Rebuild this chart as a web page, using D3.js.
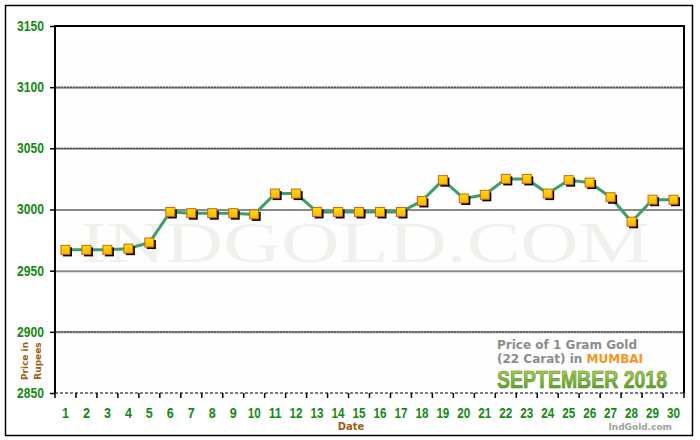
<!DOCTYPE html>
<html lang="en">
<head>
<meta charset="UTF-8">
<title>Gold price Mumbai - September 2018</title>
<script src="https://d3js.org/d3.v7.min.js"></script>
<style>
    body { margin: 0; padding: 0; background: #fff; }
    svg { display: block; }
</style>
</head>
<body>
<svg id="chart" width="700" height="440"></svg>
<script>
    // Data
    const dates = d3.range(1, 31);
    const prices = [2967, 2967, 2967, 2968, 2973, 2998, 2997, 2997, 2997, 2996,
                    3013, 3013, 2998, 2998, 2998, 2998, 2998, 3007, 3024, 3009,
                    3012, 3025, 3025, 3013, 3024, 3022, 3010, 2990, 3008, 3008];
    const yTicks = [2850, 2900, 2950, 3000, 3050, 3100, 3150];

    const margin = {top: 26, right: 16, bottom: 47, left: 55};
    const width = 700, height = 440;

    const svg = d3.select('#chart');

    // outer frame
    svg.append('rect')
        .attr('x', 5.5).attr('y', 5.5)
        .attr('width', 687).attr('height', 430)
        .attr('fill', '#fff').attr('stroke', '#000').attr('stroke-width', 1.5);

    const x = d3.scaleBand()
        .domain(dates)
        .range([margin.left, width - margin.right]);

    const y = d3.scaleLinear()
        .domain([2850, 3150])
        .range([height - margin.bottom, margin.top]);

    // plot background
    svg.append('rect')
        .attr('x', margin.left).attr('y', margin.top)
        .attr('width', width - margin.left - margin.right)
        .attr('height', height - margin.top - margin.bottom)
        .attr('fill', '#fefefe');

    // watermark
    svg.append('text')
        .attr('x', 80).attr('y', 262)
        .attr('textLength', 570)
        .attr('lengthAdjust', 'spacingAndGlyphs')
        .style('font-family', '"Liberation Serif", "DejaVu Serif", serif')
        .style('font-size', '56px')
        .style('fill', '#eff2ec')
        .text('INDGOLD.COM');

    // gridlines
    const grid = yTicks.filter(d => d > 2850 && d < 3150);
    svg.selectAll('.grid')
        .data(grid)
        .enter()
        .append('line')
        .attr('class', 'grid')
        .attr('x1', margin.left).attr('x2', width - margin.right)
        .attr('y1', d => y(d) + 0.5).attr('y2', d => y(d) + 0.5)
        .attr('stroke', '#8a8a8a').attr('stroke-width', 2);

    svg.selectAll('.gridDash')
        .data(grid.filter(d => d !== 3000 && d !== 2950))
        .enter()
        .append('line')
        .attr('class', 'gridDash')
        .attr('x1', margin.left).attr('x2', width - margin.right)
        .attr('y1', d => y(d)).attr('y2', d => y(d))
        .attr('stroke', '#333').attr('stroke-width', 1)
        .attr('stroke-dasharray', '2,1');

    // frame of plot: left, top, right solid; bottom dashed
    const x0 = margin.left, x1 = width - margin.right;
    const yTop = margin.top, yBot = height - margin.bottom;
    svg.append('path')
        .attr('d', `M${x0},${yBot}V${yTop}H${x1}V${yBot}`)
        .attr('fill', 'none').attr('stroke', '#000').attr('stroke-width', 2);
    svg.append('line')
        .attr('x1', x0).attr('x2', x1)
        .attr('y1', yBot).attr('y2', yBot)
        .attr('stroke', '#000').attr('stroke-width', 1)
        .attr('stroke-dasharray', '3,2');

    // y axis
    const yAxis = svg.append('g')
        .attr('transform', `translate(${margin.left},0)`)
        .call(d3.axisLeft(y).tickValues(yTicks).tickSize(5).tickPadding(6).tickFormat(d3.format('d')));
    yAxis.select('.domain').remove();
    yAxis.selectAll('line').attr('stroke', '#000').attr('stroke-width', 1.5);
    yAxis.selectAll('text')
        .attr('textLength', 27)
        .attr('lengthAdjust', 'spacingAndGlyphs')
        .style('font-family', '"Liberation Sans", Arial, sans-serif')
        .style('font-size', '14px')
        .style('font-weight', 'bold')
        .style('fill', '#138a13');

    // x axis: ticks at band edges
    const edges = dates.map(d => x(d)).concat([x1]);
    svg.selectAll('.xtick')
        .data(edges)
        .enter()
        .append('line')
        .attr('x1', d => d).attr('x2', d => d)
        .attr('y1', yBot).attr('y2', yBot + 5)
        .attr('stroke', '#000').attr('stroke-width', 1.5);

    svg.selectAll('.xlabel')
        .data(dates)
        .enter()
        .append('text')
        .attr('x', d => x(d) + x.bandwidth() / 2)
        .attr('y', 418)
        .attr('text-anchor', 'middle')
        .attr('textLength', d => d < 10 ? 7 : 13)
        .attr('lengthAdjust', 'spacingAndGlyphs')
        .style('font-family', '"Liberation Sans", Arial, sans-serif')
        .style('font-size', '14px')
        .style('font-weight', 'bold')
        .style('fill', '#138a13')
        .text(d => d);

    // axis titles
    svg.append('text')
        .attr('x', 351).attr('y', 430)
        .attr('text-anchor', 'middle')
        .style('font-family', 'Verdana, "DejaVu Sans", sans-serif')
        .style('font-size', '10px')
        .style('font-weight', 'bold')
        .style('fill', '#9b5d14')
        .text('Date');

    const yTitle = svg.append('g')
        .attr('transform', 'translate(28,361) rotate(-90)')
        .style('font-family', 'Verdana, "DejaVu Sans", sans-serif')
        .style('font-size', '9px')
        .style('font-weight', 'bold')
        .style('fill', '#9b5d14');
    yTitle.append('text').attr('text-anchor', 'middle').attr('y', 0).text('Price in');
    yTitle.append('text').attr('text-anchor', 'middle').attr('y', 13).text('Rupees');

    // line
    const line = d3.line()
        .x((d, i) => x(dates[i]) + x.bandwidth() / 2)
        .y(d => y(d));

    svg.append('path')
        .datum(prices)
        .attr('d', line)
        .attr('fill', 'none')
        .attr('stroke', '#3d9e68')
        .attr('stroke-width', 3)
        .attr('stroke-linejoin', 'round');

    // markers with shadow
    const defs = svg.append('defs');
    const mg = defs.append('linearGradient').attr('id', 'mk')
        .attr('x1', 0).attr('y1', 0).attr('x2', 0).attr('y2', 1);
    mg.append('stop').attr('offset', '0%').attr('stop-color', '#ffe000');
    mg.append('stop').attr('offset', '100%').attr('stop-color', '#ffb300');

    const s = 9;
    svg.selectAll('.shadow')
        .data(prices)
        .enter()
        .append('rect')
        .attr('x', (d, i) => x(dates[i]) + x.bandwidth() / 2 - s / 2 + 2)
        .attr('y', d => y(d) - s / 2 + 2)
        .attr('width', s).attr('height', s)
        .attr('fill', '#000');

    svg.selectAll('.marker')
        .data(prices)
        .enter()
        .append('rect')
        .attr('x', (d, i) => x(dates[i]) + x.bandwidth() / 2 - s / 2)
        .attr('y', d => y(d) - s / 2)
        .attr('width', s).attr('height', s)
        .attr('fill', 'url(#mk)')
        .attr('stroke', '#c8641e').attr('stroke-width', 1);

    // caption box
    const cap = svg.append('g')
        .style('font-family', 'Verdana, "DejaVu Sans", sans-serif')
        .style('font-weight', 'bold');
    cap.append('text')
        .attr('x', 497).attr('y', 349)
        .attr('textLength', 140).attr('lengthAdjust', 'spacingAndGlyphs')
        .style('font-size', '12px').style('fill', '#8c8c8c')
        .text('Price of 1 Gram Gold');
    const c2 = cap.append('text')
        .attr('x', 497).attr('y', 363)
        .style('font-size', '12px').style('fill', '#8c8c8c');
    c2.append('tspan').text('(22 Carat) in ');
    c2.append('tspan').style('fill', '#f7941d').text('MUMBAI');

    const sg = defs.append('linearGradient').attr('id', 'sep')
        .attr('x1', 0).attr('y1', 0).attr('x2', 0).attr('y2', 1);
    sg.append('stop').attr('offset', '0%').attr('stop-color', '#b5d95a');
    sg.append('stop').attr('offset', '55%').attr('stop-color', '#7ab53a');
    sg.append('stop').attr('offset', '100%').attr('stop-color', '#4f8d22');
    cap.append('text')
        .attr('x', 497).attr('y', 388)
        .attr('textLength', 170).attr('lengthAdjust', 'spacingAndGlyphs')
        .style('font-family', '"Liberation Sans", Arial, sans-serif')
        .style('font-size', '23px')
        .style('fill', 'url(#sep)')
        .style('stroke', '#5a8a2a').style('stroke-width', 0.6)
        .text('SEPTEMBER 2018');

    cap.append('text')
        .attr('x', 672).attr('y', 430)
        .attr('text-anchor', 'end')
        .style('font-size', '9px').style('fill', '#a0a0a0')
        .text('IndGold.com');
</script>
</body>
</html>
